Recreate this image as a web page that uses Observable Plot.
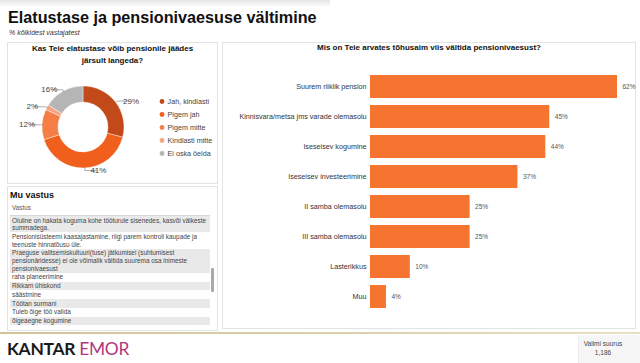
<!DOCTYPE html>
<html>
<head>
<meta charset="utf-8">
<script src="https://cdn.jsdelivr.net/npm/d3@7"></script>
<script src="https://cdn.jsdelivr.net/npm/@observablehq/plot@0.6"></script>
<style>
  html, body { margin: 0; padding: 0; }
  body { width: 640px; height: 363px; position: relative; overflow: hidden; background: #ffffff;
         font-family: Arial, "Liberation Sans", sans-serif; color: #222; }
  .abs { position: absolute; }
  .card { position: absolute; border: 1px solid #e3e3e3; background: #fff; box-sizing: border-box; }
  #shade { left: 0; top: 0; width: 330px; height: 7px;
           background: linear-gradient(to bottom, rgba(0,0,0,0.10), rgba(0,0,0,0)); }
  #title { left: 8px; top: 8px; font-size: 16.2px; line-height: 18px; font-weight: bold; color: #111; white-space: nowrap; }
  #subtitle { left: 9px; top: 29px; font-size: 7px; line-height: 8px; font-style: italic; color: #333; }
  .ctitle { position: absolute; text-align: center; font-weight: bold; font-size: 8px; color: #111; }
  #tablewrap { left: 10px; top: 216px; width: 200px; height: 112px; overflow: hidden; }
  .row { font-size: 6.4px; line-height: 7.6px; padding: 0.6px 2px; color: #444; }
  .row:nth-child(odd) { background: #e9e9e9; }
  #footer { left: 0; top: 332px; width: 640px; height: 31px; background: #fff; }
  #goldline { left: 0; top: 332px; width: 640px; height: 2px;
              background: linear-gradient(to right, #cfc39a, #d9cfa8 50%, #e8e0c4); }
</style>
</head>
<body>
<div id="shade" class="abs"></div>
<div id="title" class="abs">Elatustase ja pensionivaesuse vältimine</div>
<div id="subtitle" class="abs">% kõikidest vastajatest</div>

<div class="card" style="left:7px; top:42px; width:211px; height:142px;"></div>
<div class="ctitle" style="left:7px; top:43px; width:211px; line-height:12px;">Kas Teie elatustase võib pensionile jäädes<br>järsult langeda?</div>
<div id="donut" class="abs" style="left:7px; top:70px;"></div>

<div class="card" style="left:7px; top:186px; width:211px; height:145px;"></div>
<div class="abs" style="left:10px; top:190px; font-size:9px; line-height:11px; font-weight:bold; color:#111;">Mu vastus</div>
<div class="abs" style="left:12px; top:204px; font-size:6.3px; line-height:8px; color:#555;">Vastus</div>
<div class="abs" style="left:10px; top:215px; width:200px; height:1px; background:#d8d8d8;"></div>
<div id="tablewrap" class="abs"></div>
<div class="abs" style="left:211px; top:268px; width:3px; height:24px; background:#a9a9a9; border-radius:1px;"></div>

<div class="card" style="left:222px; top:42px; width:414px; height:287px;"></div>
<div class="ctitle" style="left:222px; top:43px; width:414px; line-height:10px;">Mis on Teie arvates tõhusaim viis vältida pensionivaesust?</div>
<div id="bars" class="abs" style="left:222px; top:68px;"></div>

<div id="footer" class="abs"></div>
<div id="goldline" class="abs"></div>
<div class="abs" style="left:7px; top:339px; font-family: Lato, 'Open Sans', sans-serif; font-size:17.4px; line-height:20px; letter-spacing:-0.3px; white-space:nowrap;">
  <span style="font-weight:700; color:#1a1a1a;">KANTAR</span><span style="font-weight:400; color:#b5367e;"> EMOR</span>
</div>
<div class="abs" style="left:578px; top:335px; width:62px; height:28px; background:#f6f6f6; border-left:1px solid #ececec;"></div>
<div class="abs" style="left:578px; top:339px; width:50px; text-align:center; font-size:6.5px; line-height:9px; color:#444;">Valimi suurus<br>1,186</div>

<script>
// ---------- data ----------
const donutLabels = ["Jah, kindlasti", "Pigem jah", "Pigem mitte", "Kindlasti mitte", "Ei oska öelda"];
const donutValues = [29, 41, 12, 2, 16];
const donutColors = ["#c2491a", "#f05f1c", "#f47e46", "#f5a47f", "#b5b5b5"];

const barCategories = ["Suurem riiklik pension", "Kinnisvara/metsa jms varade olemasolu", "Iseseisev kogumine",
  "Iseseisev investeerimine", "II samba olemasolu", "III samba olemasolu", "Lasterikkus", "Muu"];
const barValues = [62, 45, 44, 37, 25, 25, 10, 4];

const answers = [
  "Oluline on hakata koguma kohe tööturule sisenedes, kasvõi väikeste summadega.",
  "Pensionisüsteemi kaasajastamine, riigi parem kontroll kaupade ja teenuste hinnatõusu üle.",
  "Praeguse valitsemiskultuuri(tuse) jätkumisel (suhtumisest pensionäridesse) ei ole võimalik vältida suurema osa inimeste pensionivaesust",
  "raha planeerimine",
  "Rikkam ühiskond",
  "säästmine",
  "Töötan surmani",
  "Tuleb õige töö valida",
  "õigeaegne kogumine"
];

const FONT = 'Arial, "Liberation Sans", sans-serif';

// ---------- table ----------
const tw = document.getElementById("tablewrap");
answers.forEach(a => {
  const d = document.createElement("div");
  d.className = "row";
  d.textContent = a;
  tw.appendChild(d);
});

// ---------- donut ----------
const slices = donutLabels.map((label, i) => ({label, value: donutValues[i]}));
const pie = d3.pie().sort(null).value(d => d.value)(slices);
const inner = 25 / 41;
const leaders = [];
const labelPos = [];
pie.forEach(p => {
  const a = (p.startAngle + p.endAngle) / 2;
  const s = Math.sin(a), c = Math.cos(a);
  const side = s >= 0 ? 1 : -1;
  const p1 = [s * 0.98, c * 0.98];
  const p2 = [s * 1.05, c * 1.05];
  const p3 = [p2[0] + side * 0.28, p2[1]];
  [p1, p2, p3].forEach(q => leaders.push({label: p.data.label, x: q[0], y: q[1]}));
  labelPos.push({label: p.data.label, text: p.data.value + "%", x: p3[0] + side * 0.05, y: p3[1], anchor: side > 0 ? "start" : "end"});
});

function donutArcs(index, scales, values, dimensions, context) {
  const sx = scales.x, sy = scales.y, col = scales.color;
  const cx = sx(0), cy = sy(0), R = sx(1) - sx(0);
  const arc = d3.arc().innerRadius(R * inner).outerRadius(R);
  const g = d3.create("svg:g").attr("transform", `translate(${cx},${cy})`);
  g.selectAll("path").data(pie).join("path")
    .attr("d", arc)
    .attr("fill", d => col(d.data.label))
    .attr("stroke", "#fff").attr("stroke-width", 0.4);
  return g.node();
}

const legendItems = donutLabels.map((label, i) => ({label, row: i}));

const donut = Plot.plot({
  width: 211, height: 112,
  margin: 0,
  x: {domain: [-76 / 41, 135 / 41], axis: null},
  y: {domain: [-55 / 41, 57 / 41], axis: null},
  color: {domain: donutLabels, range: donutColors},
  style: {background: "transparent", overflow: "visible", fontFamily: FONT},
  marks: [
    donutArcs,
    Plot.line(leaders, {x: "x", y: "y", z: "label", stroke: "#9a9a9a", strokeWidth: 0.8}),
    Plot.text(labelPos, {x: "x", y: "y", text: "text", textAnchor: d => d.anchor, fontSize: 8, fill: "#444"}),
    Plot.dot(legendItems, {x: () => 1.915, y: d => (2 - d.row) * 0.317, r: 2.4, fill: "label"}),
    Plot.text(legendItems, {x: () => 2.05, y: d => (2 - d.row) * 0.317, text: "label", textAnchor: "start", fontSize: 7.2, fill: "#444"})
  ]
});
document.getElementById("donut").appendChild(donut);

// ---------- bars ----------
const barData = barCategories.map((cat, i) => ({cat, value: barValues[i]}));
const bars = Plot.plot({
  width: 414, height: 248,
  marginLeft: 148, marginRight: 19, marginTop: 0, marginBottom: 0,
  x: {domain: [0, 62], axis: null},
  y: {domain: barCategories, padding: 0.22, label: null, tickSize: 0, tickPadding: 4},
  style: {background: "transparent", overflow: "visible", fontFamily: FONT, fontSize: "7.2px", color: "#333"},
  marks: [
    Plot.barX(barData, {x: "value", y: "cat", fill: "#f47430"}),
    Plot.text(barData, {x: "value", y: "cat", text: d => d.value + "%", dx: 5, textAnchor: "start", fontSize: 6.5, fill: "#555"})
  ]
});
document.getElementById("bars").appendChild(bars);
</script>
</body>
</html>
